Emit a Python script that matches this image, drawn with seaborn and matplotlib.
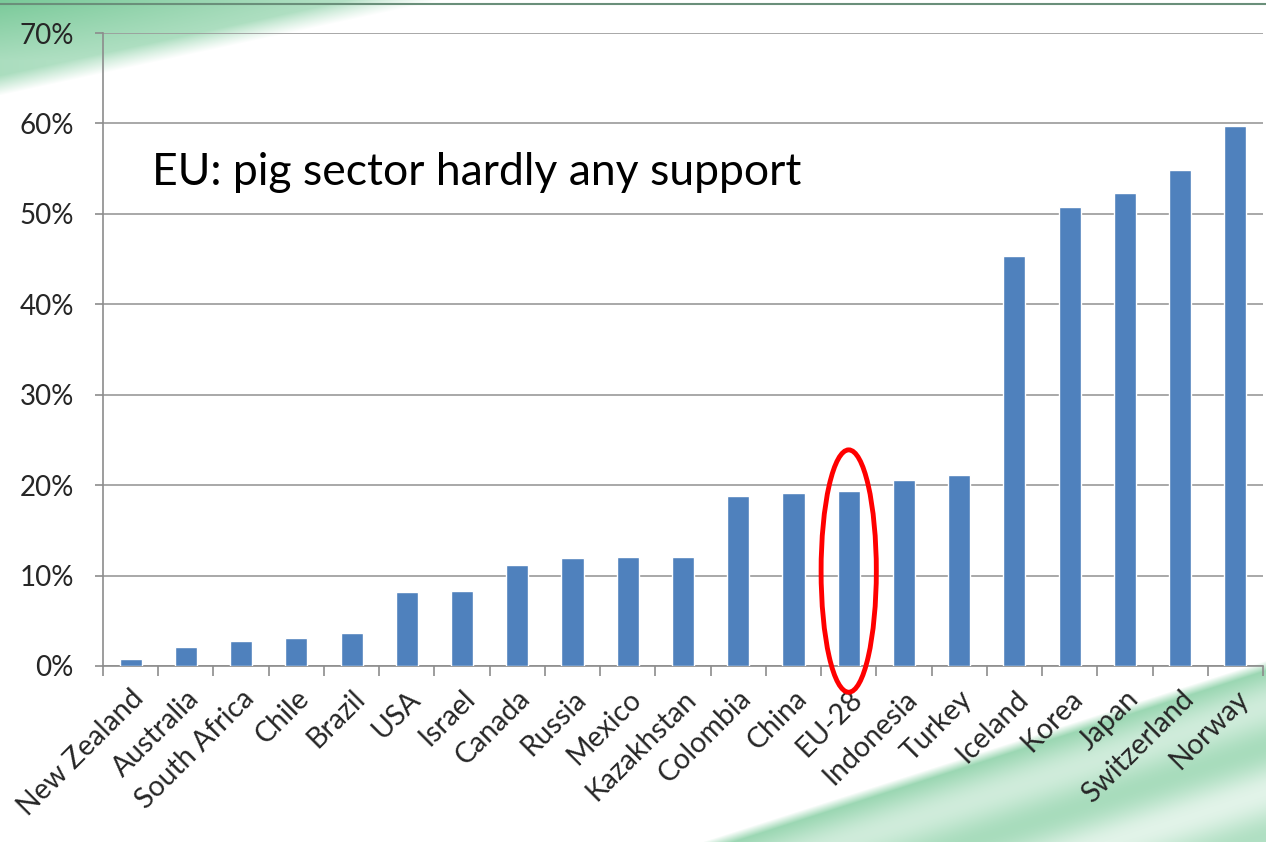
import numpy as np
import pandas as pd
import matplotlib
matplotlib.use("Agg")
import matplotlib.pyplot as plt
from matplotlib.patches import Ellipse
import seaborn as sns

countries = ["New Zealand", "Australia", "South Africa", "Chile", "Brazil", "USA",
             "Israel", "Canada", "Russia", "Mexico", "Kazakhstan", "Colombia",
             "China", "EU-28", "Indonesia", "Turkey", "Iceland", "Korea", "Japan",
             "Switzerland", "Norway"]
support_pct = [0.8, 2.1, 2.8, 3.1, 3.6, 8.2, 8.3, 11.2, 11.9, 12.0, 12.0, 18.8,
               19.1, 19.3, 20.6, 21.1, 45.3, 50.8, 52.3, 54.8, 59.7]
y_ticks = [0, 10, 20, 30, 40, 50, 60, 70]
title_text = "EU: pig sector hardly any support"
highlight = "EU-28"

sns.set_theme(style="white")
plt.rcParams['font.family'] = ['Lato', 'DejaVu Sans']

W, H = 1266, 842
fig = plt.figure(figsize=(W / 100, H / 100), dpi=100)

# --- background decoration (green swooshes) ---
bg = fig.add_axes([0, 0, 1, 1], zorder=0)
bg.set_axis_off()
yy, xx = np.mgrid[0:H, 0:W].astype(float)
img = np.ones((H, W, 3))
green = np.array([0.45, 0.78, 0.58])
# top-left
line_tl = 95 - 95 / 440 * xx
d_tl = line_tl - yy
a_tl = np.where(d_tl > 0, np.clip(d_tl / 20, 0, 1), 0) * np.clip(1 - xx / 560, 0, 1) ** 0.6
a_tl = a_tl * (0.6 + 0.35 * np.clip(1 - yy / 60, 0, 1))
# bottom-right
line_br = 660 + (842 - 660) * (1266 - xx) / (1266 - 700)
d_br = yy - line_br
band = 0.55 + 0.25 * np.cos(d_br / 14.0) + 0.3 * np.clip(1 - d_br / 120, 0, 1)
a_br = np.where(d_br > 0, np.clip(d_br / 10, 0, 1), 0) * np.clip(band, 0, 1) * 0.7
alpha = np.clip(a_tl + a_br, 0, 1)[..., None]
img = img * (1 - alpha) + green * alpha
bg.imshow(img, extent=[0, 1, 0, 1], aspect='auto')
bg.set_xlim(0, 1)
bg.set_ylim(0, 1)
bg.plot([0, 1], [1 - 4 / H, 1 - 4 / H], color='#6a8f7a', lw=1.5)

# --- main chart ---
ax = fig.add_axes([103 / W, 1 - 666 / H, (1263 - 103) / W, (666 - 33) / H], zorder=1)
ax.patch.set_alpha(0)
df = pd.DataFrame({"country": countries, "support": support_pct})
sns.barplot(data=df, x="country", y="support", color="#4F81BD", width=0.4,
            saturation=1, ax=ax, zorder=3)

ax.set_xlim(-0.5, len(countries) - 0.5)
ax.set_ylim(0, 70)
ax.set_yticks(y_ticks)
ax.set_yticklabels([f"{t}%" for t in y_ticks], fontsize=20)
ax.yaxis.grid(True, color='#9a9a9a', lw=1.2, zorder=0)
ax.set_axisbelow(True)
ax.tick_params(axis='y', which='major', direction='out', length=6, width=1.2,
               color='#8c8c8c', pad=15, left=True)

ax.set_xticks(range(len(countries)))
ax.set_xticklabels(countries, rotation=45, ha='right', rotation_mode='anchor', fontsize=20.5)
ax.tick_params(axis='x', which='major', length=0, pad=14)
ax.set_xticks(np.arange(-0.5, len(countries), 1), minor=True)
ax.tick_params(axis='x', which='minor', direction='out', length=7, width=1.2,
               color='#8c8c8c', bottom=True)
ax.set_xlabel("")
ax.set_ylabel("")

for s in ['top', 'right']:
    ax.spines[s].set_visible(False)
for s in ['left', 'bottom']:
    ax.spines[s].set_color('#8c8c8c')
    ax.spines[s].set_linewidth(1.2)

ax.text(0.39, 54.6, title_text, fontsize=32, ha='left', va='center', color='black')

idx = countries.index(highlight)
ell = Ellipse((idx, 10.5), width=1.0, height=26.8, fill=False,
              edgecolor='#ff0000', lw=3.5, clip_on=False, zorder=5)
ax.add_patch(ell)

fig.savefig("out.png", dpi=100)
